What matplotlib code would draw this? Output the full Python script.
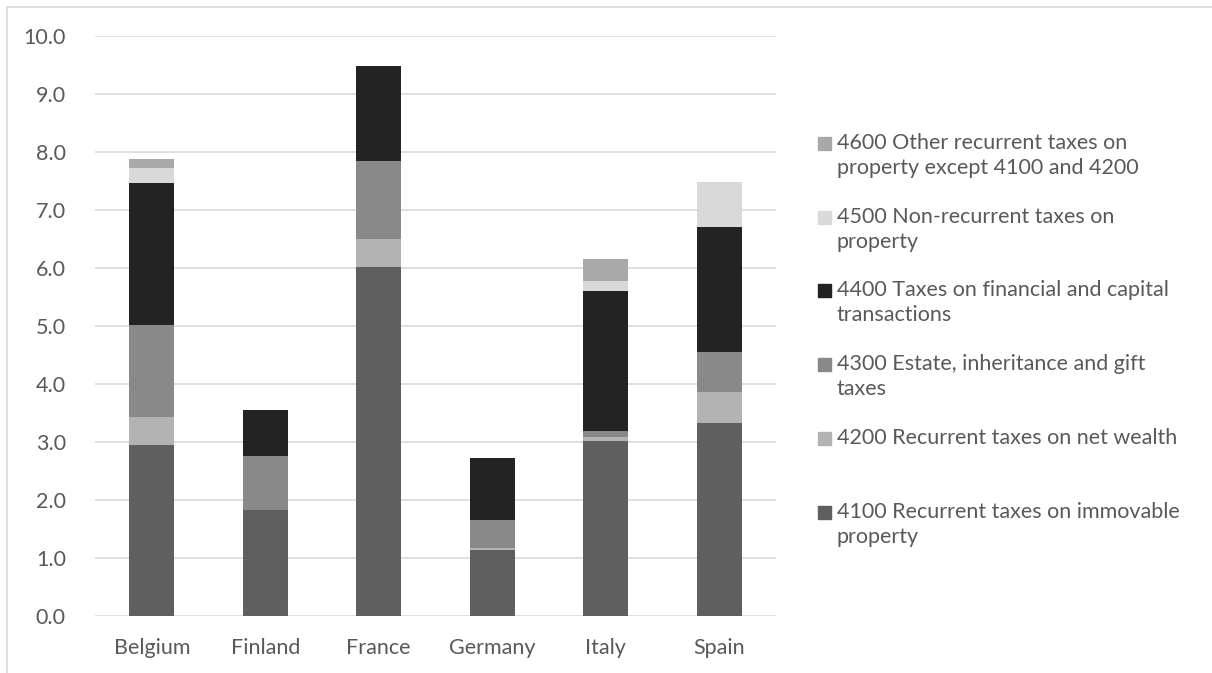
import matplotlib
matplotlib.use("Agg")
import matplotlib.pyplot as plt
from matplotlib.patches import Rectangle
from matplotlib.lines import Line2D

countries = ["Belgium", "Finland", "France", "Germany", "Italy", "Spain"]

# stacked from the bottom up
tax_4100 = [2.94, 1.83, 6.02, 1.13, 3.02, 3.32]
tax_4200 = [0.49, 0.00, 0.48, 0.04, 0.07, 0.55]
tax_4300 = [1.59, 0.93, 1.34, 0.49, 0.10, 0.68]
tax_4400 = [2.45, 0.80, 1.64, 1.06, 2.42, 2.16]
tax_4500 = [0.25, 0.00, 0.00, 0.00, 0.17, 0.77]
tax_4600 = [0.16, 0.00, 0.00, 0.00, 0.38, 0.00]

series = [tax_4100, tax_4200, tax_4300, tax_4400, tax_4500, tax_4600]
labels = ["4100 Recurrent taxes on immovable\nproperty",
          "4200 Recurrent taxes on net wealth",
          "4300 Estate, inheritance and gift\ntaxes",
          "4400 Taxes on financial and capital\ntransactions",
          "4500 Non-recurrent taxes on\nproperty",
          "4600 Other recurrent taxes on\nproperty except 4100 and 4200"]
colors = ["#5f5f5f", "#b3b3b3", "#898989", "#232323", "#d9d9d9", "#a9a9a9"]

plt.rcParams['font.family'] = ['Lato', 'DejaVu Sans']
txt = "#595959"
fs = 15.5

W, H = 1212, 673
fig = plt.figure(figsize=(W / 100, H / 100), dpi=100)
ax = fig.add_axes([95 / W, 1 - 616 / H, (776 - 95) / W, 580 / H])

x = range(len(countries))
bottom = [0.0] * len(countries)
for vals, col in zip(series, colors):
    ax.bar(x, vals, width=0.4, bottom=bottom, color=col, zorder=3)
    bottom = [b + v for b, v in zip(bottom, vals)]

ax.set_xlim(-0.5, len(countries) - 0.5)
ax.set_ylim(0, 10)
ax.set_yticks([i for i in range(11)])
ax.set_yticklabels([f"{i:.1f}" for i in range(11)])
ax.set_xticks(list(x))
ax.set_xticklabels(countries)
ax.grid(axis='y', color='#d9d9d9', linewidth=1.2, zorder=0)
for s in ax.spines.values():
    s.set_visible(False)
ax.tick_params(length=0, colors=txt, labelsize=fs)
ax.tick_params(axis='y', pad=21)
ax.tick_params(axis='x', pad=16)

# legend drawn entry by entry, top entry first
ys = [143, 217, 290, 364, 438, 512]
for (lab, col), yy in zip(reversed(list(zip(labels, colors))), ys):
    fig.patches.append(Rectangle((818 / W, 1 - (yy + 7) / H), 13 / W, 13 / H,
                                 transform=fig.transFigure, color=col))
    fig.text(837 / W, 1 - (yy - 10) / H, lab, color=txt, fontsize=fs,
             va='top', ha='left', linespacing=1.3)

# chart frame
fig.lines.append(Line2D([7 / W, 7 / W, 1], [0, 1 - 7 / H, 1 - 7 / H],
                        transform=fig.transFigure, color='#d9d9d9', linewidth=1.2))

fig.savefig("out.png", dpi=100, facecolor='white')
